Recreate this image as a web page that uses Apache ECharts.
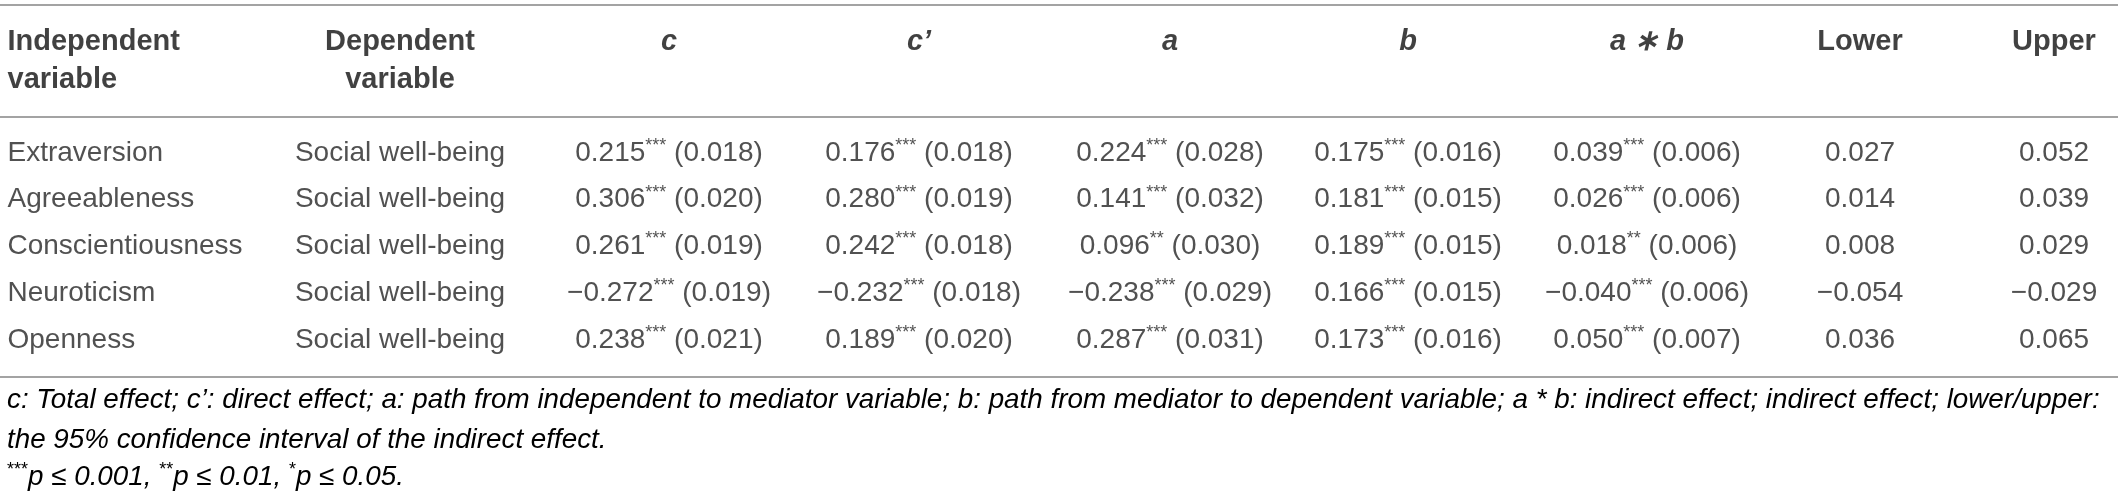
<!DOCTYPE html>
<html>
<head>
<meta charset="utf-8">
<script src="https://cdn.jsdelivr.net/npm/echarts@6/dist/echarts.min.js"></script>
<style>
  html, body { margin: 0; background: #fff; }
  #chart { width: 2118px; height: 500px; }
</style>
</head>
<body>
<div id="chart"></div>
<script>
// ---- data ----
const independentVars = ['Extraversion', 'Agreeableness', 'Conscientiousness', 'Neuroticism', 'Openness'];
const dependentVars = ['Social well-being', 'Social well-being', 'Social well-being', 'Social well-being', 'Social well-being'];

const cEst = [0.215, 0.306, 0.261, -0.272, 0.238];
const cSE = [0.018, 0.020, 0.019, 0.019, 0.021];
const cSig = ['***', '***', '***', '***', '***'];

const cpEst = [0.176, 0.280, 0.242, -0.232, 0.189];
const cpSE = [0.018, 0.019, 0.018, 0.018, 0.020];
const cpSig = ['***', '***', '***', '***', '***'];

const aEst = [0.224, 0.141, 0.096, -0.238, 0.287];
const aSE = [0.028, 0.032, 0.030, 0.029, 0.031];
const aSig = ['***', '***', '**', '***', '***'];

const bEst = [0.175, 0.181, 0.189, 0.166, 0.173];
const bSE = [0.016, 0.015, 0.015, 0.015, 0.016];
const bSig = ['***', '***', '***', '***', '***'];

const abEst = [0.039, 0.026, 0.018, -0.040, 0.050];
const abSE = [0.006, 0.006, 0.006, 0.006, 0.007];
const abSig = ['***', '***', '**', '***', '***'];

const lower = [0.027, 0.014, 0.008, -0.054, 0.036];
const upper = [0.052, 0.039, 0.029, -0.029, 0.065];

const headerTop = ['Independent', 'Dependent', 'c', 'c\u2019', 'a', 'b', 'a \u2217 b', 'Lower', 'Upper'];
const headerBottom = ['variable', 'variable', '', '', '', '', '', '', ''];
const headerItalic = [false, false, true, true, true, true, true, false, false];

// ---- layout ----
const W = 2118, H = 500;
const colX = [7, 400, 669, 919, 1170, 1408, 1647, 1860, 2054];
const rowPx = 46.75, firstRowPx = 153;
const toRow = px => 1 + (px - firstRowPx) / rowPx;
const yMin = toRow(0), yMax = toRow(H);
const FONT = '"Liberation Sans", Arial, Helvetica, sans-serif';
const INK = '#262626';

const fmt = v => v.toFixed(3).replace('-', '\u2212');
const est = (e, se, sig) => e.map((v, i) => `{n|${fmt(v)}}{s|${sig[i]}}{n| (${fmt(se[i])})}`);
const plain = arr => arr.map(v => `{n|${typeof v === 'number' ? fmt(v) : v}}`);

const columns = [
  plain(independentVars),
  plain(dependentVars),
  est(cEst, cSE, cSig),
  est(cpEst, cpSE, cpSig),
  est(aEst, aSE, aSig),
  est(bEst, bSE, bSig),
  est(abEst, abSE, abSig),
  plain(lower),
  plain(upper)
];

const rich = {
  n: { fontFamily: FONT, fontSize: 28, color: INK, lineHeight: 32 },
  s: { fontFamily: FONT, fontSize: 18, color: INK, lineHeight: 22, verticalAlign: 'top' },
  h: { fontFamily: FONT, fontSize: 29, fontWeight: 'bold', color: '#111', lineHeight: 32 },
  hi: { fontFamily: FONT, fontSize: 29, fontWeight: 'bold', fontStyle: 'italic', color: '#111', lineHeight: 32 }
};

function textSeries(texts, x, yOf, left) {
  return {
    type: 'scatter',
    symbolSize: 1,
    itemStyle: { color: 'transparent' },
    silent: true,
    clip: false,
    data: texts.map((t, i) => [x, yOf(i)]),
    label: {
      show: true,
      position: left ? 'right' : 'inside',
      distance: 0,
      formatter: p => texts[p.dataIndex],
      rich: rich
    }
  };
}

const series = [];
columns.forEach((col, j) => {
  series.push(textSeries(col, colX[j], i => i + 1, j === 0));
});

// header rows
const headerLine1 = toRow(42), headerLine2 = toRow(80);
headerTop.forEach((t, j) => {
  const style = headerItalic[j] ? 'hi' : 'h';
  series.push(textSeries([`{${style}|${t}}`], colX[j], () => headerLine1, j === 0));
  if (headerBottom[j]) {
    series.push(textSeries([`{h|${headerBottom[j]}}`], colX[j], () => headerLine2, j === 0));
  }
});

// rules
series[0].markLine = {
  silent: true,
  symbol: 'none',
  label: { show: false },
  lineStyle: { color: '#a3a3a3', width: 2, type: 'solid' },
  data: [{ yAxis: toRow(5) }, { yAxis: toRow(117) }, { yAxis: toRow(377) }]
};

const noteFont = { fontFamily: FONT, fontSize: 27.8, fontStyle: 'italic', color: INK };
const footnotes = [
  '{i|c: Total effect; c\u2019: direct effect; a: path from independent to mediator variable; b: path from mediator to dependent variable; a * b: indirect effect; indirect effect; lower/upper:}',
  '{i|the 95% confidence interval of the indirect effect.}',
  '{s|***}{i|p \u2264 0.001, }{s|**}{i|p \u2264 0.01, }{s|*}{i|p \u2264 0.05.}'
];
const footY = [400, 440, 477];

const chart = echarts.init(document.getElementById('chart'));
chart.setOption({
  animation: false,
  backgroundColor: '#fff',
  grid: { left: 0, right: 0, top: 0, bottom: 0 },
  xAxis: { type: 'value', min: 0, max: W, show: false },
  yAxis: { type: 'value', inverse: true, min: yMin, max: yMax, show: false },
  graphic: footnotes.map((t, i) => ({
    type: 'text',
    x: 7,
    y: footY[i],
    silent: true,
    style: {
      text: t,
      align: 'left',
      verticalAlign: 'middle',
      rich: {
        i: Object.assign({ lineHeight: 32 }, noteFont),
        s: { fontFamily: FONT, fontSize: 18, color: INK, lineHeight: 22, verticalAlign: 'top' }
      }
    }
  })),
  series: series
});
</script>
</body>
</html>
